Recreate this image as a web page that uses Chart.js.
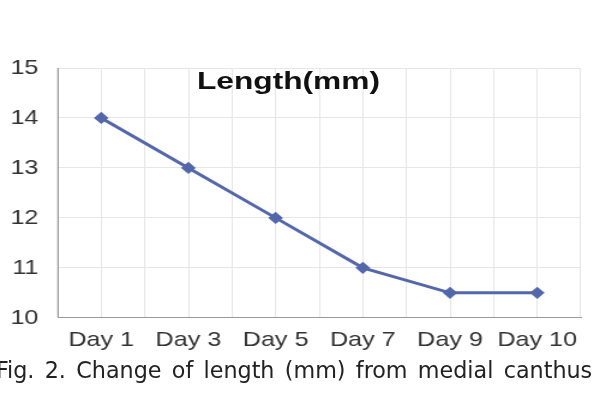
<!DOCTYPE html>
<html>
<head>
<meta charset="utf-8">
<script src="https://cdn.jsdelivr.net/npm/chart.js@4"></script>
<style>
  body { margin: 0; width: 595px; height: 405px; overflow: hidden; background: #fff; position: relative; }
  #wrap { position: absolute; left: 0; top: 0; width: 496px; height: 365px; transform: scaleX(1.2); transform-origin: 0 0; }
  #title { position: absolute; left: 197px; top: 69px; font: bold 24px "Liberation Sans", Arial, sans-serif; line-height: 24px; color: #111; transform: scaleX(1.32); transform-origin: 0 0; white-space: nowrap; }
  #caption { position: absolute; left: -4px; top: 359px; font-family: "Liberation Sans Narrow", "DejaVu Sans Condensed", "DejaVu Sans", sans-serif; font-stretch: condensed; font-size: 23px; line-height: 23px; color: #222; word-spacing: 3px; transform-origin: 0 0; white-space: nowrap; }
</style>
</head>
<body>
<div id="wrap"><canvas id="lengthChart"></canvas></div>
<div id="title">Length(mm)</div>
<div id="caption">Fig. 2. Change of length (mm) from medial canthus</div>
<script>
const days = ['Day 1', 'Day 3', 'Day 5', 'Day 7', 'Day 9', 'Day 10'];
const lengthMm = [14, 13, 12, 11, 10.5, 10.5];
const yMin = 10;
const yMax = 15;

const caption = document.getElementById('caption');
caption.style.transform = `scaleX(${596 / caption.scrollWidth})`;

const tickFont = { family: '"Liberation Sans", Arial, sans-serif', size: 21 };
const ctx = document.getElementById('lengthChart').getContext('2d');

const chart = new Chart(ctx, {
    type: 'line',
    data: {
        labels: days,
        datasets: [
            {
                label: 'Length(mm)',
                data: lengthMm,
                borderColor: '#5467aa',
                backgroundColor: '#5467aa',
                borderWidth: 3,
                pointStyle: 'rectRot',
                pointRadius: 4,
                fill: false,
                tension: 0,
                xAxisID: 'x'
            }
        ]
    },
    options: {
        responsive: true,
        maintainAspectRatio: false,
        animation: false,
        layout: { padding: { left: 0, right: 12, top: 68, bottom: 2 } },
        plugins: {
            legend: { display: false },
            tooltip: { enabled: false }
        },
        scales: {
            x: {
                type: 'category',
                offset: true,
                grid: { offset: true, color: '#e6e6e6', drawTicks: false },
                border: { color: '#9a9a9a', width: 1 },
                ticks: { color: '#333', font: tickFont, padding: 10, maxRotation: 0, autoSkip: false }
            },
            xg: {
                type: 'category',
                position: 'bottom',
                offset: true,
                grid: { offset: false, color: '#e6e6e6', drawTicks: false },
                border: { display: false },
                ticks: { display: false },
                afterFit: s => { s.height = 0; }
            },
            y: {
                min: yMin,
                max: yMax,
                ticks: { stepSize: 1, color: '#333', font: tickFont, padding: 16 },
                grid: { color: '#e6e6e6', drawTicks: false },
                border: { color: '#9a9a9a', width: 1 },
                afterFit: s => { s.width = 48; }
            }
        }
    }
});
</script>
</body>
</html>
